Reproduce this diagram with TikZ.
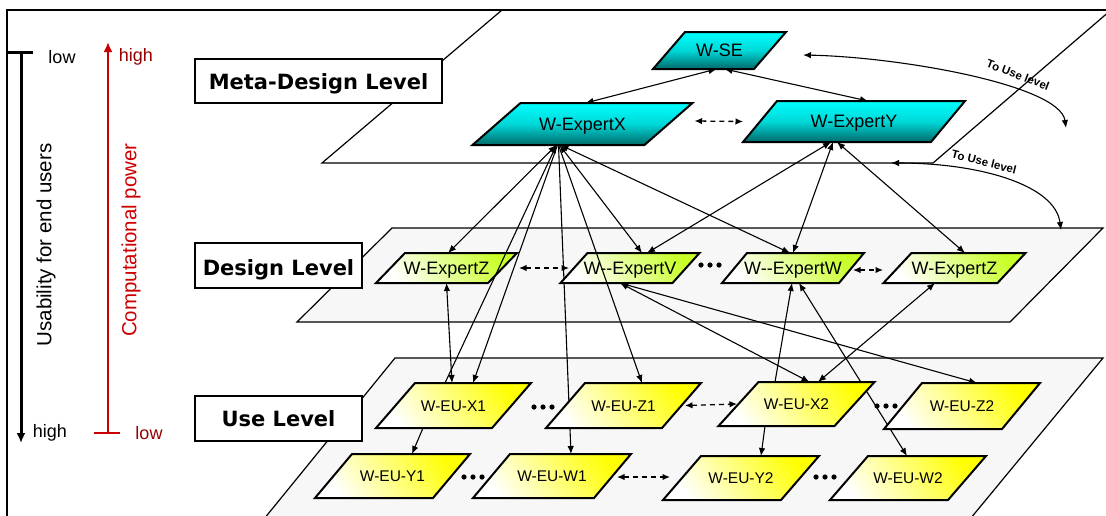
\documentclass[tikz,border=0pt]{standalone}
\usepackage{fontspec}
\setmainfont{Liberation Sans}
\newfontfamily\titlefont{DejaVu Sans}
\usetikzlibrary{calc,arrows.meta}

\pgfdeclarelayer{planes}
\pgfdeclarelayer{under}
\pgfdeclarelayer{shapes}
\pgfsetlayers{planes,under,shapes,main}

\definecolor{axisred}{RGB}{204,0,0}
\definecolor{darkred}{RGB}{150,0,0}
\definecolor{planegray}{RGB}{247,247,247}
\definecolor{cyantop}{RGB}{0,255,255}
\definecolor{cyanmid}{RGB}{0,215,215}
\definecolor{cyanbot}{RGB}{0,105,105}
\definecolor{limetop}{RGB}{200,255,40}
\definecolor{yellowtop}{RGB}{255,255,0}

\tikzset{
  pbox/.style={inner sep=0pt, outer sep=0pt, text=black},
  meta text/.style={font=\fontsize{18}{20}\selectfont, text height=12.9pt, text depth=0pt},
  meta fill/.style={top color=cyantop, bottom color=cyanbot, middle color=cyanmid},
  design text/.style={font=\fontsize{18}{20}\selectfont, text height=12.9pt, text depth=0pt},
  design fill/.style={bottom color=white, top color=limetop, shading angle=-55},
  use text/.style={font=\fontsize{15.5}{18}\selectfont, text height=11.1pt, text depth=0pt},
  use fill/.style={bottom color=white, top color=yellowtop, shading angle=-55},
  plane/.style={draw=black, line width=1.2pt},
  link/.style={line width=1.1pt},
  dlink/.style={<->, line width=1.3pt, dash pattern=on 5pt off 4pt, >={Latex[length=7.5pt,width=6.5pt]}},
  lvlbox/.style={draw=black, line width=1.2pt, fill=white, inner sep=0pt},
  lvltext/.style={font=\titlefont\bfseries\fontsize{21}{24}\selectfont, inner sep=0pt},
  tag/.style={font=\fontsize{18}{20}\selectfont, inner sep=0pt},
  curvelabel/.style={font=\bfseries\fontsize{11.5}{13}\selectfont, inner sep=0pt},
}

% slanted box: name, cx, cy, side width, height, slant, level, text
\newcommand\pgram[8]{%
  \node[pbox, minimum width=#4, minimum height=#5, #7 text] (#1) at (#2,#3) {#8};
  \begin{pgfonlayer}{shapes}
    \shadedraw[#7 fill, draw=black, line width=2pt]
      ($(#1.south west)+(-#6/2,0)$) -- ($(#1.south east)+(-#6/2,0)$) --
      ($(#1.north east)+(#6/2,0)$) -- ($(#1.north west)+(#6/2,0)$) -- cycle;
  \end{pgfonlayer}}

% row of three dots
\newcommand\threedots[2]{%
  \foreach \k in {-9,0,9} \fill ($(#1,#2)+(\k,0)$) circle (2.6);}

\begin{document}
\begin{tikzpicture}[x=1pt, y=-1pt, >={Latex[length=8pt,width=6.5pt]}]
\useasboundingbox (0,0) rectangle (1106,515);

% outer frame
\draw[line width=2pt] (7,520) -- (7,10) -- (1110,10);

% the three level planes
\begin{pgfonlayer}{planes}
  \filldraw[plane, fill=white] (322,163) -- (933,163) -- (1111,10) -- (502,10) -- cycle;
  \filldraw[plane, fill=planegray] (297,322) -- (1010,322) -- (1103,228) -- (392,228) -- cycle;
  \filldraw[plane, fill=planegray] (395,358) -- (1103,358) -- (961,530) -- (255,530) -- cycle;
\end{pgfonlayer}

% usability axis
\coordinate (uTop) at (21,52);
\coordinate (uBot) at (21,443);
\draw[line width=3pt] (7,52) -- (33,52);
\draw[line width=3pt, -{Latex[length=10pt,width=9pt]}] (uTop) -- (uBot);
\node[tag] at (62,57) {low};
\node[tag] at (50,433) {high};
\node[font=\fontsize{20.5}{24}\selectfont, rotate=90, inner sep=0pt] at (46,245) {Usability for end users};

% computational power axis
\coordinate (cBot) at (108,433);
\coordinate (cTop) at (108,42);
\draw[axisred, line width=2.5pt] (94,433) -- (120,433);
\draw[axisred, line width=2.5pt, -{Latex[length=10pt,width=9pt]}] (cBot) -- (cTop);
\node[tag, text=darkred] at (136,57) {high};
\node[tag, text=darkred] at (149,433) {low};
\node[font=\fontsize{20.5}{24}\selectfont, rotate=90, text=axisred, inner sep=0pt] at (131,240) {Computational power};

% level titles
\node[lvlbox, minimum width=247, minimum height=44] (metabox) at (318.5,81) {};
\node[lvltext] (metatitle) at (318.5,83.5) {Meta-Design Level};
\node[lvlbox, minimum width=167, minimum height=45] (designbox) at (278.5,265.5) {};
\node[lvltext] (designtitle) at (278.5,269.5) {Design Level};
\node[lvlbox, minimum width=167, minimum height=45] (usebox) at (278.5,418.5) {};
\node[lvltext] (usetitle) at (278.5,419) {Use Level};

% meta-design level
\pgram{se}{719.5}{50.5}{101}{37}{32}{meta}{W-SE}
\pgram{ex}{582.5}{124}{172}{42}{48}{meta}{W-ExpertX}
\pgram{ey}{854}{121.5}{188}{41}{34}{meta}{W-ExpertY}

% design level
\pgram{dz}{446.5}{268}{112}{30}{29}{design}{W-ExpertZ}
\pgram{dv}{630}{268}{112}{30}{27}{design}{W-{}-ExpertV}
\pgram{dw}{793}{268}{117}{30}{25}{design}{W-{}-ExpertW}
\pgram{dzr}{954.5}{268}{114}{30}{28}{design}{W-ExpertZ}
\threedots{710}{265}

% use level
\pgram{ux1}{453.5}{405.5}{116}{45}{39}{use}{W-EU-X1}
\pgram{uz1}{623.5}{405.5}{116}{45}{39}{use}{W-EU-Z1}
\pgram{ux2}{796.5}{404}{116}{44}{40}{use}{W-EU-X2}
\pgram{uz2}{962}{406}{118}{46}{38}{use}{W-EU-Z2}
\pgram{uy1}{392.5}{476}{118}{44}{37}{use}{W-EU-Y1}
\pgram{uw1}{552}{476}{121}{44}{37}{use}{W-EU-W1}
\pgram{uy2}{741}{478}{118}{44}{38}{use}{W-EU-Y2}
\pgram{uw2}{908}{478}{118}{44}{38}{use}{W-EU-W2}
\threedots{543}{407}
\threedots{473}{477}
\threedots{886}{406}
\threedots{825}{477}

% links inside the meta-design level
\draw[link,<->] ($(se.south)+(-3,0)$) -- ($(ex.north)+(3,0)$);
\draw[link,<->] ($(se.south)+(5,0)$) -- ($(ey.north)+(14,0)$);
\draw[dlink] ($(ex.east)+(26,-3)$) -- ($(ey.west)+(-17,0)$);

% links to the use level
\coordinate (toUse1a) at (803,55);
\coordinate (toUse1b) at (1066,128);
\draw[link,<->] (toUse1a) .. controls (900,57) and (1060,85) .. (toUse1b);
\node[curvelabel, rotate=-21] (toUse1) at (1018,75) {To Use level};
\coordinate (toUse2a) at (891,163);
\coordinate (toUse2b) at (1061,230);
\draw[link,<->] (toUse2a) .. controls (980,163) and (1055,185) .. (toUse2b);
\node[curvelabel, rotate=-14] (toUse2) at (984,162) {To Use level};

% from W-ExpertX
\draw[link,<->] ($(ex.south)+(-26,0)$) -- ($(dz.north)+(1.5,0)$);
\draw[link,->] ($(ex.south)+(-25,0)$) -- ($(ux1.north)+(19.5,0)$);
\draw[link,->] ($(ux1.north)+(-8.5,0)$) -- ($(ex.south)+(-26,0)$);
\begin{pgfonlayer}{under}
  \draw[link,->] ($(ex.south)+(-24,0)$) -- ($(uw1.north)+(19,0)$);
\end{pgfonlayer}
\draw[link,->] ($(ex.south)+(-24,0)$) -- ($(uz1.north)+(18.5,0)$);
\draw[link,<->] ($(ex.south)+(-23,0)$) -- ($(dv.north)+(12,0)$);
\draw[link,<->] ($(ex.south)+(-22,0)$) -- ($(dw.north)+(-3,0)$);

% from W-ExpertY
\draw[link,<->] ($(ey.south)+(-23,0)$) -- ($(dv.north)+(17,0)$);
\draw[link,<->] ($(ey.south)+(-21,0)$) -- (dw.north);
\draw[link,<->] ($(ey.south)+(-17,0)$) -- ($(dzr.north)+(10.5,0)$);

% design level to use level
\draw[link,<->] (dz.south) -- ($(ux1.north)+(-1.5,0)$);
\draw[link,<->] ($(dv.south)+(-10,0)$) -- ($(ux2.north)+(13,0)$);
\draw[link,<->] ($(dv.south)+(-10,0)$) -- ($(uz2.north)+(15,0)$);
\draw[link,->] ($(ux2.north)+(-21.5,0)$) -- ($(dw.south)+(-1,0)$);
\begin{pgfonlayer}{under}
  \draw[link,<->] ($(dw.south)+(6,0)$) -- ($(uw2.north)+(-1,0)$);
\end{pgfonlayer}
\draw[link,<->] ($(dzr.south)+(-19.5,0)$) -- ($(ux2.north)+(21.5,0)$);

% inside the design and use levels
\draw[dlink] ($(dz.east)+(16.5,0)$) -- ($(dv.west)+(-5,0)$);
\draw[dlink] ($(dw.east)+(1.5,2)$) -- ($(dzr.west)+(-14.5,2)$);
\draw[link,->] ($(ux1.south)+(-30.5,0)$) -- ($(uy1.north)+(19.5,0)$);
\draw[link,->] ($(ux2.south)+(-31.5,0)$) -- ($(uy2.north)+(20,0)$);
\draw[dlink] ($(uz1.east)+(3.5,0)$) -- ($(ux2.west)+(-1.5,0)$);
\draw[dlink] ($(uw1.east)+(4.5,1)$) -- ($(uy2.west)+(-12,-1)$);
\end{tikzpicture}
\end{document}
